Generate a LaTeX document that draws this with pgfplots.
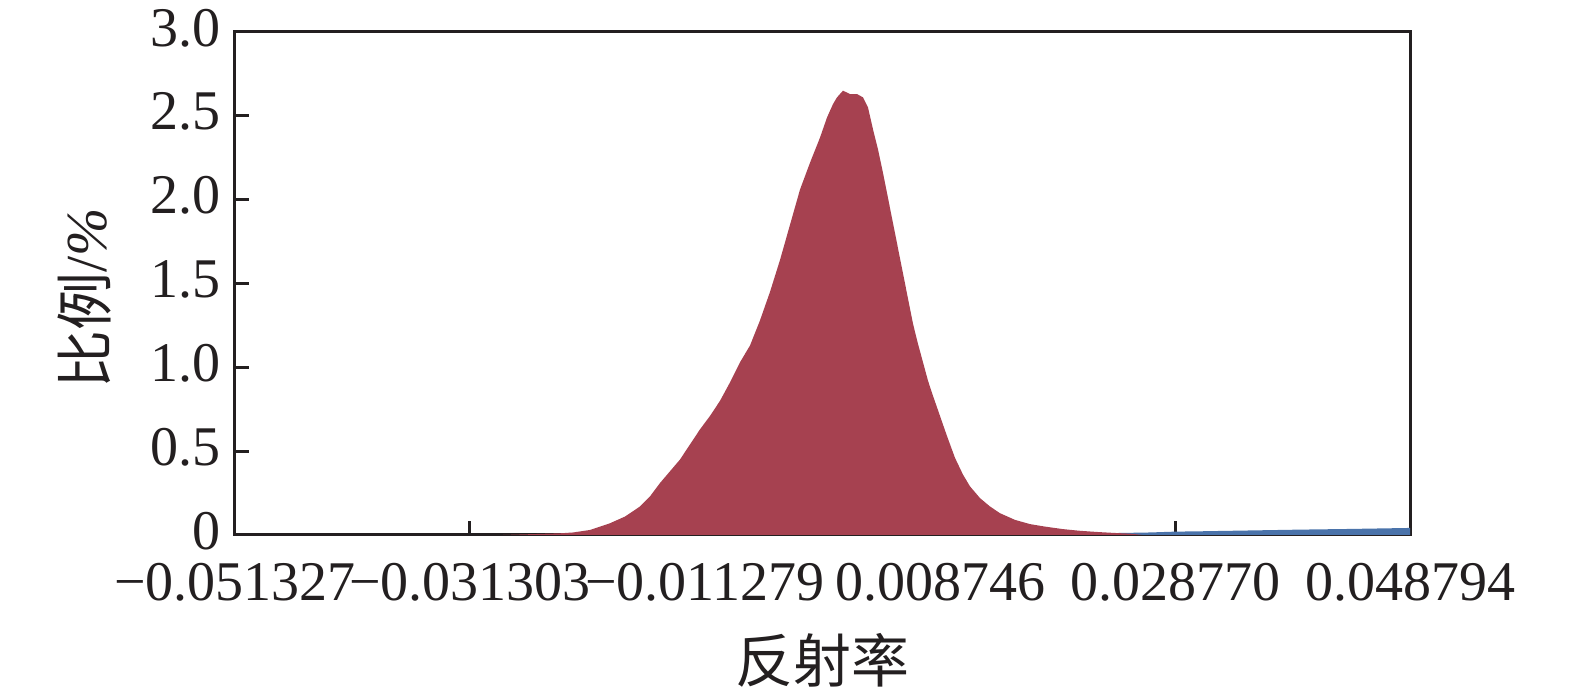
\documentclass[border=0pt]{standalone}
\usepackage{pgfplots}
\pgfplotsset{compat=1.18}
\usepackage{fontspec}
\setmainfont{Liberation Serif}
\newfontfamily\cjk{Noto Sans CJK SC}
\definecolor{histred}{RGB}{166,65,80}
\definecolor{histblue}{RGB}{74,115,170}
\definecolor{axisdark}{RGB}{35,31,32}
\begin{document}
\begin{tikzpicture}
\path[use as bounding box] (-58.75pt,-39.75pt) rectangle (335pt,133.75pt);
\begin{axis}[
  scale only axis,
  width=293.75pt, height=125.75pt,
  xmin=-0.051327, xmax=0.048794,
  ymin=0, ymax=3,
  scaled x ticks=false, scaled y ticks=false,
  axis line style={axisdark, line width=0.75pt},
  tick style={axisdark, line width=0.75pt},
  major tick length=3.5pt,
  tick align=inside,
  xtick pos=bottom, ytick pos=left,
  xtick={-0.051327,-0.031303,-0.011279,0.008746,0.028770,0.048794},
  xticklabels={−0.051327,−0.031303,−0.011279,0.008746,0.028770,0.048794},
  ytick={0,0.5,1,1.5,2,2.5,3},
  yticklabels={0,0.5,1.0,1.5,2.0,2.5,3.0},
  /pgf/number format/assume math mode=true,
  tick label style={font=\fontsize{14}{16}\selectfont, text=axisdark},
  xticklabel style={yshift=-3.5pt},
  yticklabel style={yshift=1pt},
  xlabel={\cjk 反射率},
  ylabel={{\cjk 比例}/\textit{\%}},
  label style={font=\fontsize{14.5}{16}\selectfont, text=axisdark},
  xlabel style={at={(axis description cs:0.5,-0.2485)}, anchor=center},
  ylabel style={at={(axis description cs:-0.128,0.47)}, anchor=center},
  clip=true,
]
\addplot[fill=histblue, draw=none] coordinates {
(0.020675,0) (0.020675,0.005) (0.022379,0.010) (0.026639,0.015) (0.028770,0.020)
(0.030900,0.022) (0.035160,0.027) (0.039421,0.032) (0.043681,0.036) (0.048794,0.042)
(0.048794,0)
} -- cycle;
\addplot[fill=histred, draw=none] coordinates {
(-0.028491,0) (-0.027042,0.003) (-0.023634,0.010) (-0.022526,0.015) (-0.021078,0.030)
(-0.019374,0.070) (-0.018095,0.110) (-0.016817,0.170) (-0.015965,0.230) (-0.015113,0.310)
(-0.014261,0.380) (-0.013409,0.450) (-0.012557,0.540) (-0.011705,0.630) (-0.010853,0.710)
(-0.010001,0.800) (-0.009149,0.910) (-0.008296,1.030) (-0.007444,1.130) (-0.006592,1.280)
(-0.005740,1.450) (-0.004888,1.640) (-0.004036,1.850) (-0.003184,2.060) (-0.002332,2.220)
(-0.001480,2.370) (-0.000883,2.490) (-0.000372,2.570) (-0.000031,2.610) (0.000480,2.650)
(0.001077,2.630) (0.001673,2.630) (0.002184,2.610) (0.002610,2.550) (0.003036,2.420)
(0.003462,2.300) (0.003888,2.160) (0.004315,2.010) (0.004741,1.860) (0.005167,1.710)
(0.005593,1.560) (0.006019,1.410) (0.006445,1.260) (0.006871,1.140) (0.007297,1.030)
(0.007723,0.920) (0.008149,0.830) (0.008745,0.710) (0.009342,0.590) (0.010023,0.460)
(0.010705,0.360) (0.011302,0.290) (0.012154,0.220) (0.013006,0.170) (0.013858,0.130)
(0.015136,0.090) (0.016414,0.065) (0.017692,0.050) (0.019226,0.035) (0.020675,0.025)
(0.022123,0.018) (0.023657,0.012) (0.024935,0.008) (0.026000,0)
} -- cycle;
\end{axis}
\end{tikzpicture}
\end{document}
